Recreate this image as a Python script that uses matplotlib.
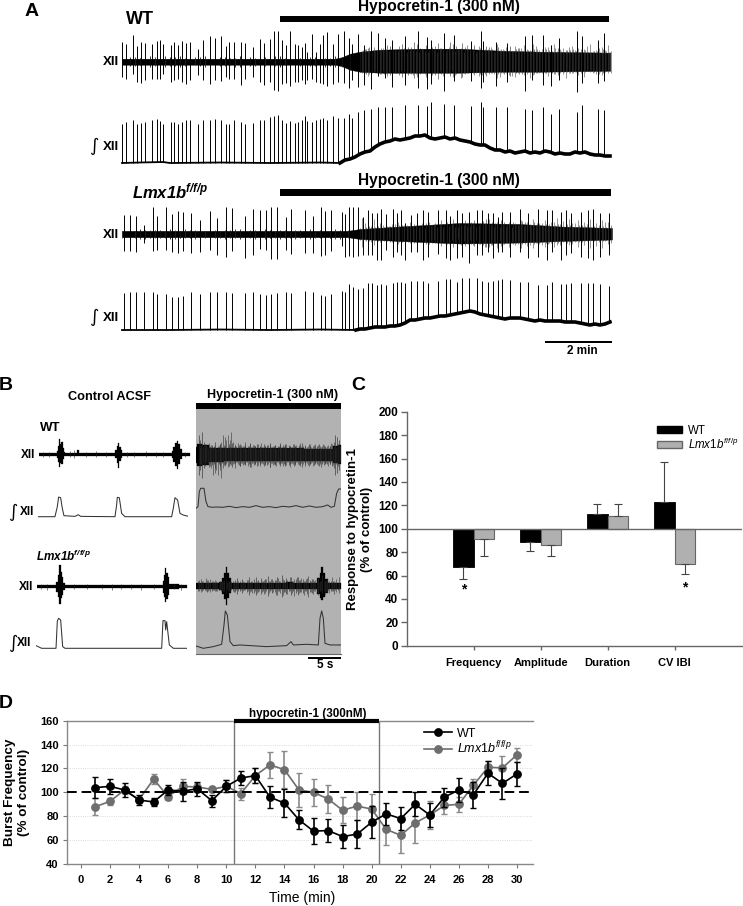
import numpy as np
import matplotlib
matplotlib.use('Agg')
import matplotlib.pyplot as plt
from matplotlib.lines import Line2D
from matplotlib.patches import Patch

plt.rcParams['font.family'] = ['Liberation Sans', 'DejaVu Sans']
plt.rcParams['mathtext.fontset'] = 'custom'
plt.rcParams['mathtext.rm'] = 'Liberation Sans'
plt.rcParams['mathtext.it'] = 'Liberation Sans:italic'
plt.rcParams['mathtext.bf'] = 'Liberation Sans:bold'
plt.rcParams['mathtext.bfit'] = 'Liberation Sans:italic:bold'

# panel A, slow recordings (1 sample = 2 min / 65)
wt_burst = [1.7, 5.7, 13, 17, 20.7, 25, 31.7, 37.3, 40, 43.3, 50.7, 54.3, 58.3, 61.7, 66, 70.3, 77.7, 83, 90, 95.3,
            100.7, 106, 109.3, 114.3, 121, 125.3, 132.7, 140, 144, 150, 154, 157.7, 161.7, 165.7, 170.3, 175, 178.3,
            182.3, 185, 187.3, 191.7, 196, 200, 202.7, 206.7, 213, 218.3, 224.3, 228.7, 232.3, 237.7, 244, 250.7,
            258.3, 265, 272.3, 285, 298, 306.7, 311.3, 323.7, 333.7, 351, 360.7, 363.3, 376, 387, 404.7, 412, 422.7,
            430.7, 439.3, 457.3, 462, 477.7, 484.3]
wt_int = [39, 41, 43, 39, 40, 41, 43, 44, 42, 39, 41, 41, 39, 41, 43, 43, 39, 43, 43, 44, 43, 39, 39, 43, 41, 39, 40,
          43, 43, 46, 47, 48, 43, 40, 42, 40, 41, 43, 47, 42, 41, 43, 44, 45, 43, 47, 45, 45, 49, 45, 51, 53, 54, 56,
          56, 56, 58, 58, 57, 61, 59, 58, 57, 61, 56, 56, 56, 54, 53, 56, 49, 54, 51, 58, 54, 53]
wt_up = [20, 18, 27, 16, 20, 19, 18, 21, 22, 18, 17, 20, 17, 21, 19, 20, 13, 22, 26, 24, 26, 16, 20, 20, 20, 19, 15,
         23, 19, 23, 31, 31, 22, 17, 31, 18, 17, 15, 19, 10, 28, 10, 18, 27, 30, 18, 28, 31, 24, 18, 28, 17, 31, 29,
         24, 22, 26, 31, 25, 22, 29, 27, 21, 31, 21, 20, 19, 26, 27, 27, 17, 24, 31, 26, 22, 29]
wt_down = [15, 17, 12, 20, 21, 18, 17, 17, 17, 12, 20, 18, 17, 20, 22, 18, 13, 18, 22, 18, 19, 15, 17, 17, 23, 17, 15,
           20, 23, 20, 28, 29, 22, 21, 24, 20, 20, 18, 22, 18, 17, 20, 21, 22, 24, 22, 20, 21, 26, 18, 25, 23, 27, 14,
           16, 25, 23, 26, 27, 22, 29, 19, 19, 26, 20, 24, 20, 29, 18, 23, 24, 18, 30, 21, 21, 19]
wt_solid_s = [2, 215, 222, 230, 240, 260, 300, 340, 380, 420, 490]
wt_solid_up = [3, 3, 4.5, 8, 10, 12, 13, 13, 11, 10, 9]
wt_solid_down = [3, 3, 4.5, 8, 10, 11, 11, 11, 10, 10, 9]
wt_fuzz_s = [2, 20, 40, 60, 80, 100, 120, 140, 160, 180, 200, 215, 222, 230, 240, 246, 252, 258, 264, 270, 276, 282,
             288, 294, 300, 306, 312, 318, 324, 330, 336, 342, 348, 354, 360, 366, 372, 378, 384, 390, 396, 402, 408,
             414, 420, 426, 432, 438, 444, 450, 456, 462, 468, 474, 480, 486, 490]
wt_fuzz_up = [3, 4, 3, 3.5, 3, 3, 2.5, 3, 4, 4, 3.5, 3, 5, 8, 10, 13, 11, 14, 12, 16, 13, 18, 15, 20, 14, 17, 15, 19,
              14, 20, 16, 19, 13, 17, 14, 16, 13, 15, 12, 16, 13, 11, 12, 13, 10, 13, 11, 14, 10, 12, 11, 14, 10, 11,
              10, 11, 10]
wt_fuzz_down = [3, 3.5, 3, 3, 3, 3, 2.5, 3, 3, 3, 3, 3, 5, 8, 10, 12, 11, 14, 12, 13, 11, 15, 13, 16, 12, 15, 13, 17,
                12, 14, 12, 15, 11, 13, 12, 14, 11, 12, 12, 14, 11, 12, 10, 12, 10, 11, 11, 13, 10, 11, 10, 12, 9, 10,
                10, 9, 9]
wt_fuzz2_s = list(range(243, 490, 6))
wt_fuzz2 = [12, 15, 11, 14, 17, 12, 16, 13, 15, 18, 13, 12, 16, 14, 13, 18, 12, 15, 17, 11, 14, 15, 12, 13, 16, 11, 14,
            12, 11, 13, 10, 12, 14, 11, 12, 13, 10, 12, 10, 11, 13, 10]
wt_pre_s = list(range(10, 220, 10))
wt_pre = [4.5, 3.5, 5.5, 4, 4.5, 5.5, 3.5, 4.5, 4, 4.5, 3.5, 5.5, 4.5, 4, 5, 5.5, 4.5, 4, 4.5, 5.5, 4]
wt_drift_s = [2, 20, 43, 50, 100, 150, 200, 220] + list(range(225, 491, 5))
wt_drift = [0, 0.5, 1, 0, 0.5, 0, 0.5, 0, 3, 4, 6, 9, 11, 12, 16, 19, 21, 22, 24, 23, 24, 25, 27, 27, 28, 25, 24, 25,
            26, 24, 25, 23, 22, 21, 19, 18, 18, 15, 13, 13, 11, 12, 10, 11, 12, 10, 11, 10, 12, 11, 9, 10, 9, 9, 11,
            10, 11, 9, 8, 8, 7, 7]

ko_burst = [3.7, 10, 16, 24.3, 32.7, 37.3, 46.3, 52.3, 57.7, 62.7, 71.3, 80.3, 90.3, 97.3, 105.7, 112.3, 124.7, 132.7,
            140.3, 145.7, 151, 157.3, 165.7, 171, 184.7, 193, 200.7, 205.3, 211, 221.7, 225.3, 229.3, 233.3, 238.3,
            243.3, 248.3, 252.3, 256.7, 261.3, 265.7, 272.7, 277.3, 280.7, 285.3, 291, 297, 303, 308.3, 318.3, 325.7,
            330, 336.7, 342.3, 349.3, 357.3, 362.3, 368.3, 372.7, 378.3, 382.3, 390, 399.7, 407.7, 417.7, 426.7, 432,
            440.7, 446.3, 451, 461.3, 467.7, 472.7, 480, 489.3]
ko_int = [37, 38, 38, 38, 38, 36, 36, 33, 33, 34, 38, 36, 38, 38, 38, 37, 37, 38, 36, 35, 36, 37, 38, 37, 39, 38, 35,
          34, 36, 39, 38, 46, 43, 41, 42, 47, 47, 45, 46, 45, 47, 48, 48, 47, 49, 49, 49, 47, 49, 51, 51, 48, 52, 52,
          52, 49, 48, 49, 50, 51, 50, 48, 48, 45, 45, 48, 46, 46, 47, 47, 47, 47, 46, 44]
ko_up = [19, 19, 18, 9, 27, 18, 27, 20, 23, 22, 21, 14, 23, 16, 27, 26, 18, 25, 24, 24, 27, 27, 17, 25, 24, 18, 27, 23,
         24, 22, 20, 27, 27, 27, 17, 24, 21, 21, 25, 20, 25, 21, 24, 11, 19, 21, 24, 22, 24, 24, 18, 24, 21, 22, 24,
         24, 21, 21, 17, 22, 22, 25, 21, 25, 24, 24, 22, 24, 21, 22, 24, 25, 21, 21]
ko_down = [17, 17, 18, 9, 17, 16, 16, 18, 19, 17, 19, 18, 16, 21, 23, 17, 24, 21, 15, 16, 25, 25, 16, 20, 19, 19, 22,
           21, 17, 12, 23, 22, 23, 22, 21, 21, 21, 26, 26, 16, 23, 18, 21, 26, 18, 18, 26, 23, 20, 24, 26, 24, 23, 29,
           21, 21, 18, 24, 18, 18, 23, 18, 24, 23, 26, 18, 26, 21, 19, 23, 24, 26, 23, 21]
ko_solid_s = [2, 228, 240, 280, 340, 400, 440, 492]
ko_solid_up = [3.2, 3.2, 5, 7.5, 11, 10, 7.5, 6]
ko_solid_down = [3.2, 3.2, 5, 7, 9.5, 8.5, 7, 5.5]
ko_fuzz_s = [2, 30, 60, 90, 120, 150, 180, 210, 228, 240, 246, 252, 258, 264, 270, 276, 282, 288, 294, 300, 306, 312,
             318, 324, 330, 336, 342, 348, 354, 360, 366, 372, 378, 384, 390, 396, 402, 408, 414, 420, 426, 432, 438,
             444, 450, 456, 462, 468, 474, 480, 486, 492]
ko_fuzz_up = [3.5, 4, 3.5, 3.5, 3.5, 3.5, 3, 3.5, 4, 6, 7, 6, 8, 7, 8, 7, 9, 8, 10, 8, 11, 9, 12, 10, 12, 10, 13, 11,
              14, 11, 15, 12, 16, 12, 14, 10, 13, 9, 12, 8, 10, 8, 10, 7, 9, 7, 9, 6, 8, 6, 7, 6]
ko_fuzz_down = [3.5, 4, 4, 4, 3.5, 3.5, 3, 3.5, 4, 6, 7, 6, 7, 7, 8, 7, 8, 8, 9, 8, 10, 9, 10, 9, 11, 9, 11, 10, 12,
                10, 13, 11, 12, 10, 11, 9, 10, 8, 10, 8, 9, 7, 9, 7, 8, 7, 8, 6, 7, 6, 6, 6]
ko_fuzz2_s = list(range(243, 490, 6))
ko_fuzz2 = [7, 8, 7, 9, 8, 10, 9, 11, 9, 12, 10, 12, 11, 14, 12, 15, 11, 14, 12, 16, 13, 15, 11, 14, 10, 12, 9, 12, 9,
            11, 8, 10, 9, 8, 10, 7, 9, 8, 7, 6, 8, 7]
ko_pre_s = list(range(10, 230, 10))
ko_pre = [4, 5, 3.5, 4, 5, 3.5, 4, 4.5, 5, 3.5, 4, 5, 4, 3.5, 4, 4.5, 3.5, 4, 5, 4, 3.5, 4.5]
ko_drift_s = [2, 50, 100, 150, 200, 236] + list(range(240, 491, 5))
ko_drift = [0, 0, 0.5, 0, 0.5, 0, 1, 1, 2, 3, 3, 3, 4, 4, 5, 7, 10, 10, 11, 12, 12, 13, 14, 14, 15, 16, 17, 18, 19, 18,
            16, 15, 14, 13, 12, 11, 12, 12, 12, 11, 10, 9, 10, 9, 9, 9, 9, 8, 8, 8, 7, 6, 5, 6, 5, 6, 8]

# panel B, fast sweeps (3 samples per pixel of the figure)
wtc_s = [0, 50, 55, 58, 62, 65, 68, 72, 76, 80, 110, 116, 120, 225, 230, 234, 238, 242, 246, 252, 395, 400, 405, 410,
         415, 420, 425, 430, 452]
wtc_up = [4, 4, 10, 25, 46, 30, 36, 18, 6, 4, 4, 12, 4, 4, 12, 24, 33, 22, 12, 4, 4, 10, 22, 34, 41, 30, 15, 5, 4]
wtc_down = [4, 4, 10, 22, 37, 25, 28, 15, 6, 4, 4, 6, 4, 4, 12, 25, 40, 20, 10, 4, 4, 12, 24, 36, 44, 30, 14, 5, 4]
wtc_fuzz_s = [12, 30, 92, 104, 140, 170, 200, 262, 285, 320, 350, 372, 436]
wtc_fuzz = [7, 8, 9, 12, 7, 9, 8, 7, 8, 9, 7, 8, 7]
wtc_int_s = [0, 50, 57, 61, 67, 72, 77, 110, 120, 127, 230, 235, 237, 243, 250, 260, 400, 405, 410, 418, 425, 435, 450]
wtc_int = [0, 0, 30, 59, 57, 25, 3, 1, 6, 1, 0, 35, 58, 57, 10, 0, 0, 25, 57, 50, 10, 5, 1]

wth_s = [0, 8, 30, 45, 120, 250, 400, 420, 434]
wth_up = [24, 32, 30, 21, 20, 20, 19, 27, 30]
wth_down = [24, 32, 30, 21, 19, 19, 18, 25, 28]
wth_fuzz_s = list(range(8, 429, 5))
wth_fuzz = [60, 45, 70, 38, 32, 28, 35, 24, 30, 26, 38, 22, 28, 34, 24, 30, 26, 22, 32, 28, 36, 24, 28, 22, 30, 34, 24,
            26, 30, 22, 28, 36, 24, 30, 26, 34, 22, 28, 24, 32, 26, 30, 22, 36, 24, 28, 30, 22, 26, 34, 24, 28, 32, 22,
            30, 26, 24, 34, 28, 22, 30, 26, 36, 22, 28, 24, 32, 26, 22, 30, 24, 28, 34, 22, 26, 30, 24, 28, 22, 26, 32,
            40, 60, 55, 45]
wth_int_s = [0, 6, 10, 14, 24, 30, 36, 50, 60, 80, 100, 120, 140, 160, 180, 200, 220, 240, 260, 280, 300, 320, 340,
             360, 380, 395, 405, 415, 422, 428, 434]
wth_int = [0, 5, 50, 60, 60, 20, 5, 3, 4, 3, 6, 2, 5, 3, 8, 3, 5, 2, 6, 4, 8, 3, 7, 3, 5, 10, 3, 6, 45, 58, 58]

koc_s = [0, 55, 60, 64, 68, 72, 76, 80, 86, 375, 378, 381, 385, 389, 393, 398, 450]
koc_up = [4, 4, 15, 35, 65, 45, 30, 12, 4, 4, 18, 35, 57, 42, 28, 8, 4]
koc_down = [4, 4, 15, 30, 53, 35, 25, 10, 4, 4, 18, 30, 45, 38, 25, 8, 4]
koc_fuzz_s = [10, 30, 110, 150, 195, 225, 250, 280, 310, 350, 410, 430]
koc_fuzz = [8, 9, 7, 8, 7, 9, 8, 8, 9, 8, 8, 9]
koc_int_s = [0, 17, 60, 64, 68, 74, 80, 87, 377, 381, 387, 389, 392, 400, 412, 452]
koc_int = [8, 0, 0, 82, 90, 85, 5, 0, 0, 83, 83, 55, 80, 10, 0, 0]

koh_s = [0, 20, 40, 60, 75, 82, 88, 92, 96, 102, 108, 120, 140, 160, 180, 200, 220, 240, 260, 280, 300, 320, 340, 360,
         368, 374, 378, 383, 390, 400, 415, 434]
koh_up = [9, 8, 9, 9, 12, 25, 40, 58, 40, 25, 10, 9, 9, 10, 9, 10, 9, 10, 9, 11, 9, 10, 9, 9, 25, 40, 58, 40, 22, 10,
          9, 8]
koh_down = [9, 8, 9, 9, 12, 25, 40, 57, 35, 22, 10, 9, 9, 9, 9, 10, 9, 9, 9, 10, 9, 9, 9, 9, 25, 35, 42, 32, 20, 10,
            9, 8]
koh_fuzz_s = list(range(5, 430, 7))
koh_fuzz = [14, 10, 16, 12, 18, 11, 15, 13, 16, 12, 14, 18, 22, 16, 20, 14, 18, 24, 16, 22, 13, 18, 26, 15, 20, 28, 17,
            24, 14, 20, 30, 16, 22, 18, 26, 15, 34, 19, 24, 16, 28, 14, 20, 26, 18, 22, 15, 24, 17, 20, 14, 18, 12, 16,
            14, 18, 12, 14, 16, 11, 13]
koh_int_s = [0, 22, 52, 77, 84, 88, 94, 102, 112, 132, 212, 272, 285, 292, 332, 367, 372, 377, 382, 387, 402, 434]
koh_int = [7, 0, 5, 12, 70, 112, 100, 20, 8, 10, 5, 8, 20, 10, 12, 10, 90, 112, 90, 15, 10, 10]

# panel C
categories = ['Frequency', 'Amplitude', 'Duration', 'CV IBI']
c_wt = [67, 89, 112.5, 123]
c_ko = [91, 86, 111, 70]
c_wt_err = [10, 8, 9, 34]
c_ko_err = [14.5, 9.5, 10, 9]

# panel D
minutes = list(range(1, 31))
d_wt = [104, 105, 102, 93.5, 92, 102, 101, 103, 93, 105, 112, 114, 96, 91, 77, 67.5, 68, 63, 65, 75, 82, 78, 90, 81,
        96, 102, 98, 116, 107.5, 115.5]
d_wt_err = [9, 6, 5.5, 4, 3.5, 4, 8, 6, 5, 5, 6, 6, 9, 11.5, 8, 11, 9.5, 10, 11.5, 13.5, 9, 9.5, 10, 10, 8, 10, 11, 10,
            13, 10]
d_ko = [88, 92.5, 102, 94, 111, 96.5, 105, 104.5, 102.5, 105, 99, 114, 123, 119, 102, 100, 94.5, 85, 88.5, 86, 69, 64,
        74.5, 81, 89, 90, 106, 121, 120.5, 131.5]
d_ko_err = [7, 3, 3, 2.5, 4, 3, 6, 3, 2, 5, 5, 6.5, 11, 15.5, 14, 11.5, 12, 11, 11.5, 12.5, 13, 14.5, 16.5, 12, 7, 6.5,
            5.5, 5, 10, 6]

W, H = 743, 906
KO_BOLD = r'$\mathbfit{Lmx1b}^{\mathbfit{f/f/p}}$'
KO_IT = r'$\mathit{Lmx1b}^{\mathit{f/f/p}}$'

fig = plt.figure(figsize=(W / 100, H / 100), dpi=100)

# overlay in figure pixels, for labels, drug bars and scale bars
ov = fig.add_axes([0, 0, 1, 1], zorder=0)
ov.set_xlim(0, W)
ov.set_ylim(H, 0)
ov.axis('off')


def px_axes(x0, x1, y0, y1, unit, ymid):
    ax = fig.add_axes([x0 / W, 1 - y1 / H, (x1 - x0) / W, (y1 - y0) / H], zorder=2)
    ax.set_xlim(0, (x1 - x0) * unit)
    ax.set_ylim((ymid - y1) * unit, (ymid - y0) * unit)
    ax.axis('off')
    return ax


def label(x, y, s, size=9, weight='bold', **kw):
    ov.text(x, y, s, fontsize=size, fontweight=weight, ha=kw.pop('ha', 'center'), va='center', **kw)


def integral(x, y):
    ov.text(x, y, '\u222b', fontsize=13, family='DejaVu Sans', ha='center', va='center')


def bar(x0, x1, y0, y1):
    ov.fill_between([x0, x1], y0, y1, color='black', lw=0)


def slow_xii(ymid, burst, up, down, solid, fuzz, fuzz2, pre):
    ax = px_axes(120, 612, ymid - 36, ymid + 36, 1, ymid)
    ax.fill_between(solid[0], -np.array(solid[2]), solid[1], color='black', lw=0.3)
    ax.vlines(fuzz[0], -np.array(fuzz[2]), fuzz[1], color='#222222', lw=0.4)
    ax.vlines(fuzz2[0], -np.array(fuzz2[1]) * 0.85, fuzz2[1], color='#333333', lw=0.4)
    # second pass half a step on, so the fuzz does not read as a regular comb
    ax.vlines(np.array(fuzz2[0]) + 1.5, -np.roll(fuzz2[1], 7) * 0.9, np.roll(fuzz2[1], 13), color='#444444', lw=0.4)
    ax.vlines(np.array(fuzz2[0]) - 1.5, -np.roll(fuzz2[1], 19) * 0.9, np.roll(fuzz2[1], 23), color='#444444', lw=0.4)
    ax.vlines(pre[0], -np.array(pre[1]), pre[1], color='#111111', lw=0.6)
    ax.vlines(np.array(pre[0]) + 5, -np.roll(pre[1], 5), np.roll(pre[1], 9), color='#222222', lw=0.6)
    ax.vlines(burst, -np.array(down), up, color='black', lw=0.7)


def slow_int(ybase, burst, amp, drift_s, drift, start):
    ax = px_axes(120, 612, ybase - 66, ybase + 4, 1, ybase)
    drift_s, drift = np.array(drift_s), np.array(drift)
    ax.plot(drift_s[drift_s <= start], drift[drift_s <= start], color='black', lw=1.3)
    ax.plot(drift_s[drift_s >= start], drift[drift_s >= start], color='black', lw=2.6)
    ax.vlines(burst, np.interp(burst, drift_s, drift), amp, color='black', lw=0.7)


def fast_xii(x0, x1, ymid, s, up, down, fuzz_s, fuzz, dense=False):
    ax = px_axes(x0, x1, ymid - 26, ymid + 26, 3, ymid)
    ax.fill_between(s, -np.array(down), up, color='black', lw=0.2, step='mid')
    ax.vlines(fuzz_s, -np.array(fuzz), fuzz, color='#222222', lw=0.4)
    if dense:
        ax.vlines(np.array(fuzz_s) + 2.5, -np.roll(fuzz, 11), np.roll(fuzz, 17), color='#333333', lw=0.4)


def fast_int(x0, x1, ybase, s, amp):
    ax = px_axes(x0, x1, ybase - 42, ybase + 4, 3, ybase)
    ax.plot(s, amp, color='#333333', lw=0.75)


# panel A
label(32, 12, 'A', size=14)
label(140, 20, 'WT', size=13)
bar(280, 609, 16, 22.3)
label(439, 6, 'Hypocretin-1 (300 nM)', size=11.2)
label(111, 62, 'XII', size=9.5)
integral(94, 146)
label(111, 147, 'XII', size=9.5)
slow_xii(61.7, wt_burst, wt_up, wt_down, (wt_solid_s, wt_solid_up, wt_solid_down),
         (wt_fuzz_s, wt_fuzz_up, wt_fuzz_down), (wt_fuzz2_s, wt_fuzz2), (wt_pre_s, wt_pre))
slow_int(163, wt_burst, wt_int, wt_drift_s, wt_drift, 220)

label(170, 191, KO_BOLD, size=12)
bar(280, 611, 189.3, 195.6)
label(439, 180, 'Hypocretin-1 (300 nM)', size=11.2)
label(111, 235, 'XII', size=9.5)
integral(94, 317)
label(111, 318, 'XII', size=9.5)
slow_xii(234, ko_burst, ko_up, ko_down, (ko_solid_s, ko_solid_up, ko_solid_down),
         (ko_fuzz_s, ko_fuzz_up, ko_fuzz_down), (ko_fuzz2_s, ko_fuzz2), (ko_pre_s, ko_pre))
slow_int(330, ko_burst, ko_int, ko_drift_s, ko_drift, 236)
bar(545, 612, 340.5, 343)
label(582, 351, '2 min', size=8.5)

# panel B
label(6, 385, 'B', size=14)
label(109, 397, 'Control ACSF', size=9.2)
label(272.7, 395, 'Hypocretin-1 (300 nM)', size=9)
ov.fill_between([196, 341], 404, 654, color='#b2b2b2', lw=0)
ov.plot([196, 341], [654, 654], color='#666666', lw=0.8)
bar(196, 341, 403, 409)
label(50, 428, 'WT', size=9.5)
label(28, 455, 'XII', size=8.5)
integral(13, 512)
label(27, 512, 'XII', size=8.5)
label(63, 556, KO_BOLD, size=8.5)
label(26, 587, 'XII', size=8.5)
integral(13, 643)
label(24, 643, 'XII', size=8.5)
fast_xii(39.3, 190, 454.3, wtc_s, wtc_up, wtc_down, wtc_fuzz_s, wtc_fuzz)
fast_int(38.3, 188.3, 516.7, wtc_int_s, wtc_int)
fast_xii(196, 341, 455, wth_s, wth_up, wth_down, wth_fuzz_s, wth_fuzz, dense=True)
fast_int(196, 341, 508.3, wth_int_s, wth_int)
fast_xii(37.3, 187.3, 586.7, koc_s, koc_up, koc_down, koc_fuzz_s, koc_fuzz)
fast_int(36, 187, 648.3, koc_int_s, koc_int)
fast_xii(196, 341, 586, koh_s, koh_up, koh_down, koh_fuzz_s, koh_fuzz, dense=True)
fast_int(196, 341, 648.3, koh_int_s, koh_int)
bar(308, 341, 656.8, 658.6)
label(325, 665, '5 s', size=8.5)

# panel C
label(358, 385, 'C', size=14)
GREY = '#666666'
ax = fig.add_axes([406.7 / W, 1 - 645.7 / H, (742 - 406.7) / W, (645.7 - 411.7) / H], zorder=1)
ax.set_xlim(-1, 4.005)
ax.set_ylim(0, 200)
x = np.arange(len(categories))
bw = 0.306
ax.bar(x - bw / 2, np.array(c_wt) - 100, bw, bottom=100, color='black', edgecolor='black', lw=0.6)
ax.bar(x + bw / 2, np.array(c_ko) - 100, bw, bottom=100, color='#b0b0b0', edgecolor=GREY, lw=0.8)
for xs, vals, errs in [(x - bw / 2, c_wt, c_wt_err), (x + bw / 2, c_ko, c_ko_err)]:
    lo = [e if v < 100 else 0 for v, e in zip(vals, errs)]
    hi = [e if v >= 100 else 0 for v, e in zip(vals, errs)]
    ax.errorbar(xs, vals, yerr=[lo, hi], fmt='none', ecolor='#444444', elinewidth=0.8, capsize=3, capthick=0.8)
ax.axhline(100, color=GREY, lw=1)
for xs, v in [(x[0] - bw / 2, 48), (x[3] + bw / 2, 50)]:
    ax.text(xs, v, '*', fontsize=10, fontweight='bold', ha='center', va='center')
ax.set_xticks(x)
ax.set_xticklabels(categories, fontsize=8, fontweight='bold')
ax.set_yticks(range(0, 201, 20))
ax.tick_params(axis='y', labelsize=8.5, color=GREY, length=4, width=1, pad=2)
ax.tick_params(axis='x', color=GREY, length=3, width=1, pad=6)
for t in ax.get_yticklabels():
    t.set_fontweight('bold')
for name in ['top', 'right']:
    ax.spines[name].set_visible(False)
for name in ['left', 'bottom']:
    ax.spines[name].set_color(GREY)
    ax.spines[name].set_linewidth(1)
label(360, 529, 'Response to hypocretin-1\n(% of control)', size=9.5, rotation=90, linespacing=1.2)
ax.legend([Patch(facecolor='black', edgecolor='black'), Patch(facecolor='#b0b0b0', edgecolor=GREY)],
          ['WT', KO_IT], loc='upper left', bbox_to_anchor=(0.7456, 0.945), frameon=False, fontsize=8.3,
          handlelength=2.2, handleheight=0.6, labelspacing=0, handletextpad=0.5, borderpad=0, borderaxespad=0)

# panel D
label(6, 703, 'D', size=14)
ax = fig.add_axes([67 / W, 1 - 864 / H, (533 - 67) / W, (864 - 720.7) / H], zorder=1)
ax.set_xlim(-0.96, 31.1)
ax.set_ylim(40, 160)
for g in [60, 80, 120, 140]:
    ax.axhline(g, color='#cfcfcf', lw=0.6, ls=':')
ax.axvline(10.5, color='#777777', lw=1)
ax.axvline(20.5, color='#777777', lw=1)
ax.errorbar(minutes, d_ko, yerr=d_ko_err, color='#6e6e6e', ecolor='#8a8a8a', marker='o', ms=5.3, lw=1.2,
            elinewidth=1.2, capsize=2.5, capthick=1, zorder=3)
ax.errorbar(minutes, d_wt, yerr=d_wt_err, color='black', ecolor='black', marker='o', ms=5.3, lw=1.2,
            elinewidth=1.2, capsize=2.5, capthick=1, zorder=4)
ax.axhline(100, color='black', lw=1.4, ls=(0, (5, 2.5)), zorder=5)
ax.plot([10.5, 20.5], [160, 160], color='black', lw=3, solid_capstyle='butt', clip_on=False, zorder=6)
ax.set_xticks(range(0, 31, 2))
ax.set_yticks(range(40, 161, 20))
ax.tick_params(axis='both', labelsize=8, color='#777777', length=3, width=0.8, pad=5)
ax.tick_params(axis='y', pad=3)
for t in ax.get_xticklabels() + ax.get_yticklabels():
    t.set_fontweight('bold')
ax.spines['right'].set_visible(False)
for name in ['top', 'left', 'bottom']:
    ax.spines[name].set_color('#888888')
    ax.spines[name].set_linewidth(1)
label(308, 714, 'hypocretin-1 (300nM)', size=8.4)
label(302, 898, 'Time (min)', size=10, weight='normal')
label(17, 792, 'Burst Frequency\n(% of control)', size=9.7, rotation=90, linespacing=1.15)
ax.legend([Line2D([], [], color='black', marker='o', ms=5.3, lw=1.2),
           Line2D([], [], color='#6e6e6e', marker='o', ms=5.3, lw=1.2)],
          ['WT', KO_IT], loc='upper left', bbox_to_anchor=(0.766, 0.95), frameon=False, fontsize=9,
          handlelength=2.24, labelspacing=0, handletextpad=0.4, borderpad=0, borderaxespad=0)

fig.savefig('out.png', dpi=100)
